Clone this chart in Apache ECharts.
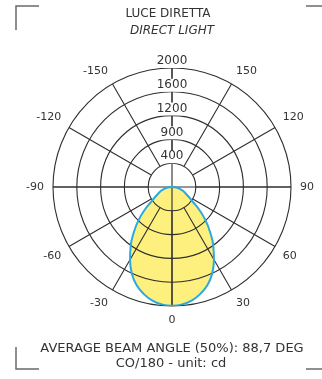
<!DOCTYPE html>
<html>
<head>
<meta charset="utf-8">
<script src="https://cdn.jsdelivr.net/npm/echarts@6/dist/echarts.min.js"></script>
<style>
  html, body { margin: 0; padding: 0; background: #ffffff; }
  #chart { width: 322px; height: 379px; }
</style>
</head>
<body>
<div id="chart"></div>
<script>
// Luminous intensity curve, C0/180 plane (cd), angle in degrees from nadir
const angles = [-90, -85, -80, -75, -70, -65, -60, -55, -50, -45, -40, -35, -30, -25, -20, -15, -10, -5,
                0, 5, 10, 15, 20, 25, 30, 35, 40, 45, 50, 55, 60, 65, 70, 75, 80, 85, 90];
const intensity = [0, 50, 100, 150, 200, 250, 320, 420, 600, 800, 1000, 1210, 1410, 1600, 1750, 1855, 1935, 1980,
                   1995, 1980, 1935, 1855, 1750, 1600, 1410, 1210, 1000, 800, 600, 420, 320, 250, 200, 150, 100, 50, 0];

// Ring labels (one per ring, from the centre outwards)
const ringValues = [0, 400, 800, 1200, 1600, 2000];
const ringLabels = ['', '400', '900', '1200', '1600', '2000'];

// Spoke labels, every 30 degrees
const angleTicks = [-180, -150, -120, -90, -60, -30, 0, 30, 60, 90, 120, 150, 180];
const angleTickLabels = ['', '-150', '-120', '-90', '-60', '-30', '0', '30', '60', '90', '120', '150', ''];

const titleLines = ['LUCE DIRETTA', 'DIRECT LIGHT'];
const footerLines = ['AVERAGE BEAM ANGLE (50%): 88,7 DEG', 'CO/180 - unit: cd'];

const FONT = 'DejaVu Sans';
const GRID = '#2e2e2e';
const TEXT = '#333333';
const CX = 172, CY = 187, R = 119, R_INNER = 24;

const curve = angles.map((a, i) => [intensity[i], a]);

const chart = echarts.init(document.getElementById('chart'), null, { renderer: 'canvas' });

const cornerStyle = { stroke: '#6a6a6a', lineWidth: 1.5, fill: null };
const gridLine = { color: GRID, width: 1.1 };

chart.setOption({
  backgroundColor: '#ffffff',
  animation: false,
  polar: [
    { center: [CX, CY], radius: [0, R] },
    { center: [CX, CY], radius: [R_INNER, R] }
  ],
  angleAxis: [
    {
      polarIndex: 0,
      type: 'value',
      min: -180, max: 180, interval: 90,
      startAngle: 90, clockwise: false,
      z: 1,
      axisLine: { show: false },
      axisTick: { show: false },
      axisLabel: { show: false },
      splitLine: { show: true, lineStyle: gridLine }
    },
    {
      polarIndex: 1,
      type: 'value',
      min: -180, max: 180, interval: 30,
      startAngle: 90, clockwise: false,
      z: 1,
      axisLine: { show: false },
      axisTick: { show: false },
      axisLabel: {
        show: true, margin: 9, color: TEXT, fontFamily: FONT, fontSize: 11,
        formatter: v => {
          const k = angleTicks.indexOf(Math.round(v));
          return k >= 0 ? angleTickLabels[k] : '';
        }
      },
      splitLine: { show: true, lineStyle: gridLine }
    }
  ],
  radiusAxis: [
    {
      polarIndex: 0,
      type: 'value',
      min: ringValues[0], max: ringValues[ringValues.length - 1], interval: 400,
      z: 2,
      axisLine: { show: false },
      axisTick: { show: false },
      axisLabel: {
        show: true, margin: 0, align: 'center', verticalAlign: 'bottom',
        color: TEXT, fontFamily: FONT, fontSize: 12,
        backgroundColor: '#ffffff', padding: [0, 1, 1, 1],
        formatter: v => {
          const k = ringValues.indexOf(Math.round(v));
          return k >= 0 ? ringLabels[k] : '';
        }
      },
      splitLine: { show: true, lineStyle: gridLine }
    },
    {
      polarIndex: 1,
      type: 'value', min: 0, max: 2000, show: false,
      axisLine: { show: false }, axisTick: { show: false },
      axisLabel: { show: false }, splitLine: { show: false }
    }
  ],
  series: [
    {
      type: 'line', coordinateSystem: 'polar', polarIndex: 0,
      data: curve, smooth: true, symbol: 'none', z: 0,
      lineStyle: { width: 0, opacity: 0 },
      areaStyle: { color: '#fdf07e', opacity: 1 }
    },
    {
      type: 'line', coordinateSystem: 'polar', polarIndex: 0,
      data: curve, smooth: true, symbol: 'none', z: 3,
      lineStyle: { color: '#2aa9e0', width: 2 }
    }
  ],
  graphic: [
    { type: 'text', x: 168, y: 14,
      style: { text: titleLines[0], font: '12px "' + FONT + '"', fill: TEXT, align: 'center', verticalAlign: 'middle' } },
    { type: 'text', x: 172, y: 31,
      style: { text: titleLines[1], font: 'italic 12px "' + FONT + '"', fill: TEXT, align: 'center', verticalAlign: 'middle' } },
    { type: 'text', x: 172, y: 349,
      style: { text: footerLines[0], font: '13px "' + FONT + '"', fill: TEXT, align: 'center', verticalAlign: 'middle' } },
    { type: 'text', x: 171, y: 364,
      style: { text: footerLines[1], font: '13px "' + FONT + '"', fill: TEXT, align: 'center', verticalAlign: 'middle' } },
    // frame corners
    { type: 'polyline', shape: { points: [[16, 30], [16, 6], [39, 6]] }, style: cornerStyle },
    { type: 'polyline', shape: { points: [[306, 6], [322, 6]] }, style: cornerStyle },
    { type: 'polyline', shape: { points: [[16, 347], [16, 369], [39, 369]] }, style: cornerStyle },
    { type: 'polyline', shape: { points: [[306, 369], [322, 369]] }, style: cornerStyle }
  ]
});
</script>
</body>
</html>
